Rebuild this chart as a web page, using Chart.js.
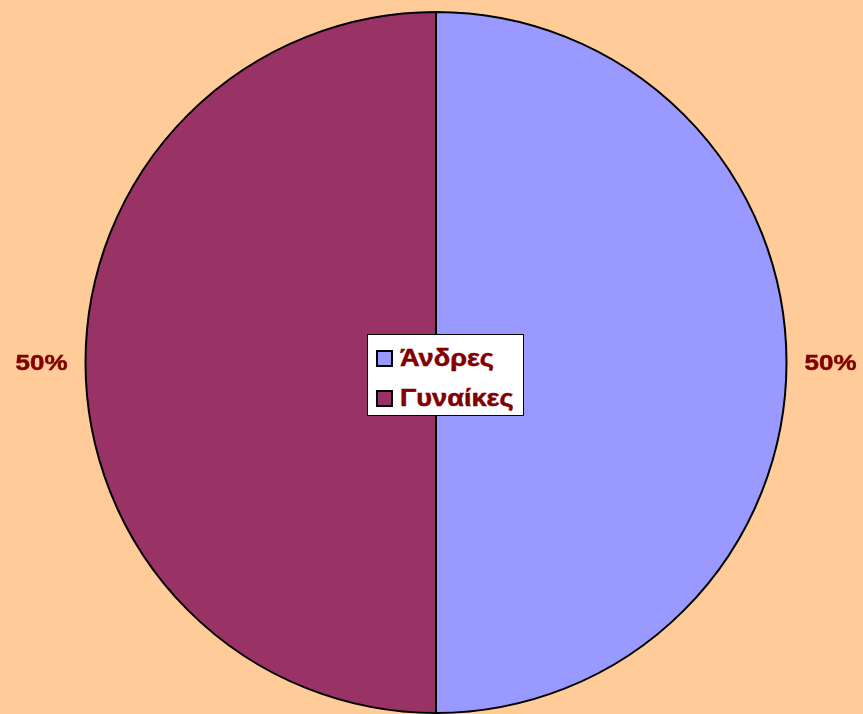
<!DOCTYPE html>
<html>
<head>
<meta charset="utf-8">
<script src="https://cdn.jsdelivr.net/npm/chart.js@4.4.0/dist/chart.umd.min.js"></script>
<style>
  html, body { margin: 0; padding: 0; background: #FFCC99; }
  #wrap { position: relative; width: 863px; height: 714px; overflow: hidden; }
  #c { position: absolute; left: 0; top: 0; }
  #legend {
    position: absolute; left: 367px; top: 334px; width: 155px; height: 80px;
    background: #FFFFFF; border: 1px solid #000000;
    font-family: "Liberation Sans", Arial, sans-serif; font-weight: bold; font-size: 23px; color: #800000;
  }
  .sw { position: absolute; left: 8px; width: 13px; height: 13px; border: 2px solid #000; }
  .lbl { position: absolute; left: 32px; line-height: 23px; white-space: nowrap;
         -webkit-text-stroke: 0.5px #800000;
         transform: scaleX(1.18); transform-origin: 0 0; }
</style>
</head>
<body>
<div id="wrap">
  <canvas id="c" width="863" height="714"></canvas>
  <div id="legend"></div>
</div>
<script>
const categories = ["Άνδρες", "Γυναίκες"];
const values = [50, 50];
const percentLabels = ["50%", "50%"];
const colors = ["#9999FF", "#993366"];

// HTML legend built from data
const legend = document.getElementById('legend');
categories.forEach((name, i) => {
  const sw = document.createElement('div');
  sw.className = 'sw';
  sw.style.top = (15 + i * 40) + 'px';
  sw.style.background = colors[i];
  const lbl = document.createElement('div');
  lbl.className = 'lbl';
  lbl.style.top = (12 + i * 40) + 'px';
  lbl.textContent = name;
  legend.appendChild(sw);
  legend.appendChild(lbl);
});

const outsideLabels = {
  id: 'outsideLabels',
  afterDatasetsDraw(chart) {
    const ctx = chart.ctx;
    const meta = chart.getDatasetMeta(0);
    meta.data.forEach((arc, i) => {
      const p = arc.getProps(['x', 'y', 'startAngle', 'endAngle', 'outerRadius'], true);
      const mid = (p.startAngle + p.endAngle) / 2;
      const r = p.outerRadius + 44;
      ctx.save();
      ctx.translate(p.x + Math.cos(mid) * r, p.y + Math.sin(mid) * r + 1);
      ctx.scale(1.18, 1);
      ctx.font = 'bold 22px "Liberation Sans", Arial, sans-serif';
      ctx.fillStyle = '#800000';
      ctx.strokeStyle = '#800000';
      ctx.lineWidth = 0.5;
      ctx.textAlign = 'center';
      ctx.textBaseline = 'middle';
      ctx.fillText(percentLabels[i], 0, 0);
      ctx.strokeText(percentLabels[i], 0, 0);
      ctx.restore();
    });
  }
};

new Chart(document.getElementById('c'), {
  type: 'pie',
  data: {
    labels: categories,
    datasets: [{
      data: values,
      backgroundColor: colors,
      borderColor: '#000000',
      borderWidth: 2
    }]
  },
  options: {
    responsive: false,
    animation: false,
    layout: { padding: { left: 84, right: 75, top: 11, bottom: -1 } },
    plugins: {
      legend: { display: false },
      tooltip: { enabled: false }
    }
  },
  plugins: [outsideLabels]
});
</script>
</body>
</html>
